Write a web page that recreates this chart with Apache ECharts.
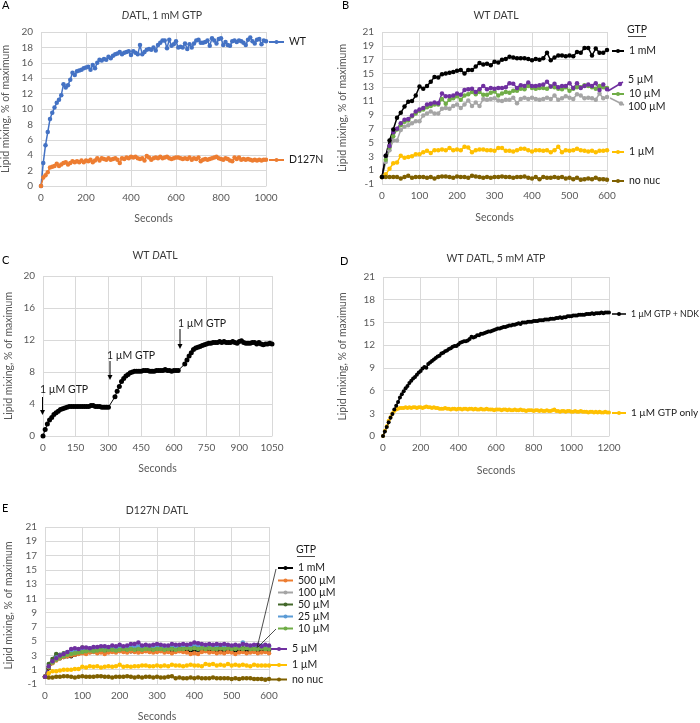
<!DOCTYPE html>
<html><head><meta charset="utf-8">
<script src="https://cdn.jsdelivr.net/npm/echarts@6/dist/echarts.min.js"></script>
<style>html,body{margin:0;padding:0;background:#fff}#c{width:700px;height:723px}</style>
</head><body><div id="c"></div><script>
// ---------- Panel A (10 s steps, 0..1000 s) ----------
const A_step = 10;
const A_WT = [0,3.0,5.3,7.0,8.7,9.5,10.2,10.8,11.2,11.8,
13.2,12.8,13.1,13.8,14.7,14.4,14.9,15.0,15.1,15.3,
15.4,15.5,15.1,15.7,15.3,16.0,16.4,16.3,16.5,16.4,
16.8,16.6,16.9,17.1,17.2,17.4,17.1,17.3,17.4,17.5,
17.0,17.5,17.3,17.1,18.3,17.1,17.4,17.7,17.8,17.7,
18.0,17.6,18.3,18.6,18.9,18.9,17.9,19.0,18.2,18.4,
18.8,18.0,18.1,18.0,18.5,17.8,18.4,18.0,18.5,18.9,
19.0,18.6,18.6,18.7,18.9,18.2,19.2,18.9,18.5,19.1,
19.2,18.3,18.7,18.3,18.2,18.8,18.9,18.7,18.9,18.8,
18.6,18.3,19.0,19.3,18.8,18.5,19.0,19.1,18.4,18.9,18.8];
const A_D127N = [0,1.1,1.4,1.8,2.4,2.5,2.6,2.9,2.6,2.8,
3.0,3.1,2.8,3.0,3.2,3.1,3.2,3.1,3.3,3.1,
3.3,3.2,3.4,3.1,3.3,3.6,3.3,3.6,3.5,3.4,
3.6,3.4,3.5,3.6,3.4,3.0,3.6,3.5,3.7,3.6,
3.8,3.7,3.8,3.6,3.5,3.6,3.3,3.9,3.7,3.4,
3.6,3.7,3.6,3.8,3.6,3.7,3.8,3.6,3.5,3.6,
3.7,3.7,3.6,3.5,3.6,3.5,3.7,3.4,3.6,3.5,
3.7,3.2,3.4,3.5,3.4,3.5,3.6,3.7,3.8,3.6,
3.5,3.4,3.6,3.5,3.3,3.2,3.7,3.5,3.7,3.4,
3.5,3.4,3.5,3.4,3.3,3.4,3.3,3.4,3.3,3.4,3.4];

// ---------- Panel B (10 s steps, 0..600 s) ----------
const B_step = 10;
const B_1mM = [0,3.1,5.3,6.9,8.6,9.3,10.2,10.9,11.0,11.8,
13.1,12.8,13.2,13.8,14.5,14.4,14.9,15.0,15.1,15.2,
15.4,15.5,15.0,15.5,15.5,16.0,16.5,16.3,16.4,16.2,
16.7,16.6,17.0,17.1,17.4,17.3,17.2,17.2,17.2,17.1,
16.9,17.1,17.0,17.2,18.0,16.9,17.3,17.6,17.6,17.5,
17.6,17.5,18.1,18.0,18.7,18.7,17.6,18.6,18.0,18.0,18.4];
const B_5uM = [0,3.1,4.5,6.5,7.0,7.8,8.3,8.4,8.9,9.5,
9.8,10.0,10.5,10.6,10.8,10.7,12.1,11.7,11.7,11.8,
12.1,11.9,12.6,12.7,12.8,12.3,12.7,13.2,12.7,12.9,
12.8,12.9,12.9,13.0,13.6,13.5,12.9,13.3,13.2,13.7,
13.2,13.2,13.3,13.4,13.8,13.1,13.5,13.0,13.2,13.2,
13.6,12.9,13.6,12.9,13.2,13.4,13.2,13.6,12.6,13.4,12.7];
const B_10uM = [0,2.5,4.3,5.9,6.9,7.5,8.0,8.2,8.8,9.2,
9.6,9.8,10.1,10.3,10.5,10.5,11.3,10.6,11.2,11.4,
11.7,11.2,11.8,12.0,12.3,12.0,12.3,11.9,11.9,12.2,
12.4,11.8,12.1,12.3,12.2,12.5,12.5,12.8,12.7,13.2,
12.9,12.8,12.9,12.9,12.8,13.1,13.0,12.8,12.7,13.0,
12.5,12.8,13.0,13.0,13.3,13.2,13.0,12.8,13.2,13.0,12.9];
const B_100uM = [0,2.2,3.9,5.3,5.3,6.8,7.3,7.5,7.8,8.1,
8.1,8.9,9.2,9.5,9.2,9.2,9.9,10.0,9.9,10.3,
10.5,10.0,10.5,11.1,10.3,10.8,10.3,11.3,11.2,11.3,
11.4,11.1,11.0,11.2,11.2,11.5,10.7,11.3,11.5,11.3,
11.5,11.3,11.2,11.3,11.5,11.3,11.8,11.2,11.4,11.7,
11.5,11.3,12.0,11.8,11.4,11.5,11.4,11.2,12.1,11.4,11.6];
const B_1uM = [0,0.4,1.2,2.0,2.1,3.1,2.8,2.9,3.0,3.3,
3.3,3.6,3.8,3.5,3.9,3.9,4.0,3.9,4.2,3.9,
4.0,3.9,4.4,4.3,3.6,3.9,4.0,4.0,3.9,3.9,
3.8,4.2,4.2,3.8,3.8,3.7,3.9,4.1,4.1,3.9,
3.7,3.9,3.9,3.8,3.9,3.6,3.9,4.4,3.6,3.9,
3.8,3.9,4.1,3.9,3.8,3.7,3.8,3.6,3.8,3.8,3.9];
const B_nonuc = [0,0,0,0,0,-0.2,0,0.2,-0.1,0,
0,0,-0.1,0,-0.2,0,0.1,0.1,0,-0.1,
0.1,0,0,-0.1,0.2,0.1,0,-0.1,0,-0.1,
0,0,0.1,0,0,-0.1,0,0,0.1,-0.1,
-0.2,0,-0.3,0,-0.1,-0.1,0,-0.1,0,-0.2,
-0.1,-0.3,-0.1,-0.4,-0.3,-0.2,-0.3,-0.1,-0.3,-0.3,-0.4];

// ---------- Panel C (three GTP additions; sampling times) ----------
const C_times = [0,10,20,30,40,50,60,70,80,90,100,110,120,130,140,150,160,170,180,190,200,210,220,230,240,250,260,270,280,290,300,
330,340,350,360,370,380,390,400,410,420,430,440,450,460,470,480,490,500,510,520,530,540,550,560,570,580,590,600,610,620,
650,660,670,680,690,700,710,720,730,740,750,760,770,780,790,800,810,820,830,840,850,860,870,880,890,900,910,920,930,940,950,960,970,980,990,1000,1010,1020,1030,1040,1050];
const C_vals = [0,0.8,1.5,2.0,2.3,2.7,2.9,3.1,3.3,3.4,3.5,3.6,3.7,3.7,3.7,3.7,3.7,3.7,3.7,3.7,3.7,3.7,3.8,3.8,3.7,3.7,3.7,3.6,3.6,3.6,3.6,
4.9,5.6,6.2,6.8,7.2,7.5,7.7,7.9,8.0,8.1,8.1,8.1,8.1,8.2,8.2,8.2,8.1,8.1,8.1,8.2,8.2,8.2,8.2,8.3,8.2,8.2,8.1,8.2,8.2,8.2,
9.0,9.5,10.0,10.4,10.8,11.0,11.1,11.2,11.3,11.4,11.5,11.6,11.6,11.7,11.7,11.7,11.8,11.7,11.8,11.7,11.7,11.7,11.8,11.7,11.6,11.8,11.9,11.7,11.6,11.6,11.6,11.7,11.7,11.5,11.7,11.5,11.4,11.5,11.5,11.6,11.5];

// ---------- Panel D (10 s steps, 0..1200 s) ----------
const D_step = 10;
const D_NDK = [0,0.6,1.2,1.8,2.4,2.9,3.5,4.0,4.5,5.1,
5.5,5.9,6.3,6.6,7.0,7.3,7.6,7.8,8.1,8.4,
8.6,8.9,9.1,9.0,9.5,9.7,9.9,10.1,10.3,10.5,
10.6,10.9,11.0,11.2,11.3,11.5,11.6,11.8,11.9,11.9,
12.1,12.3,12.4,12.5,12.5,12.6,12.8,13.1,13.0,13.1,
13.3,13.3,13.5,13.5,13.6,13.7,13.8,13.8,13.9,14.0,
14.1,14.2,14.2,14.3,14.4,14.4,14.5,14.6,14.6,14.7,
14.7,14.8,14.9,14.8,15.0,15.0,15.0,15.1,15.1,15.1,
15.2,15.2,15.2,15.3,15.3,15.3,15.4,15.4,15.4,15.5,
15.5,15.5,15.6,15.6,15.7,15.6,15.7,15.7,15.8,15.8,
15.8,15.9,15.9,15.9,16.0,16.0,16.0,16.0,16.1,16.1,
16.1,16.2,16.1,16.2,16.2,16.2,16.3,16.2,16.3,16.3,16.3];
const D_only = [0,0.7,1.3,2.0,2.5,3.0,3.3,3.5,3.6,3.7,
3.7,3.7,3.8,3.7,3.8,3.7,3.8,3.8,3.7,3.8,
3.8,3.7,3.8,3.9,3.8,3.8,3.7,3.8,3.7,3.7,
3.6,3.6,3.6,3.7,3.6,3.6,3.5,3.6,3.6,3.5,
3.6,3.6,3.5,3.6,3.6,3.5,3.6,3.6,3.5,3.6,
3.5,3.5,3.6,3.5,3.5,3.6,3.5,3.5,3.5,3.4,
3.5,3.5,3.5,3.4,3.5,3.5,3.4,3.5,3.4,3.4,
3.5,3.4,3.4,3.5,3.4,3.4,3.3,3.4,3.4,3.4,
3.3,3.4,3.4,3.3,3.4,3.3,3.3,3.4,3.3,3.3,
3.4,3.5,3.3,3.3,3.2,3.3,3.3,3.2,3.3,3.3,
3.2,3.2,3.3,3.2,3.2,3.3,3.2,3.2,3.2,3.1,
3.2,3.2,3.1,3.2,3.1,3.2,3.1,3.1,3.2,3.1,3.1];

// ---------- Panel E (10 s steps, 0..600 s) ----------
const E_step = 10;
const E_1mM = [0,1.2,2.0,2.4,2.6,2.8,2.9,2.9,3.1,3.3,
3.5,3.6,3.5,3.6,3.6,3.7,3.6,3.7,3.7,3.6,
3.7,3.7,3.7,3.6,3.7,3.7,3.8,3.7,3.7,3.7,
3.7,3.8,3.7,3.7,3.7,3.8,3.7,3.7,3.8,3.7,
3.7,3.8,3.7,3.7,3.6,3.7,3.7,3.7,3.6,3.7,
3.7,3.6,3.7,3.7,3.6,3.6,3.7,3.7,3.7,3.7,3.8];
const E_500uM = [0,1.3,1.9,2.3,2.6,2.8,2.9,3.0,3.1,3.2,
3.3,3.2,3.4,3.5,3.3,3.4,3.2,3.4,3.5,3.4,
3.6,3.5,3.4,3.6,3.5,3.4,3.5,3.6,3.5,3.4,
3.5,3.6,3.4,3.5,3.3,3.5,3.6,3.5,3.4,3.2,
3.3,3.2,3.5,3.6,3.4,3.5,3.3,3.4,3.3,3.5,
3.4,3.2,3.4,3.5,3.3,3.4,3.5,3.3,3.4,3.5,3.3];
const E_100uM = [0,1.3,2.0,2.4,2.7,2.9,3.0,3.2,3.3,3.4,
3.5,3.4,3.5,3.6,3.6,3.7,3.6,3.7,3.7,3.6,
3.7,3.7,3.8,3.7,3.7,3.8,3.7,3.8,3.7,3.8,
3.7,3.8,3.7,3.8,3.7,3.8,3.8,3.7,3.8,3.7,
3.8,3.7,3.8,3.8,3.7,3.8,3.7,3.8,3.7,3.8,
3.7,3.8,3.7,3.8,3.7,3.7,3.8,3.7,3.7,3.8,3.7];
const E_50uM = [0,1.8,2.5,3.2,3.1,3.3,3.4,3.5,3.6,3.8,
4.1,3.9,3.8,4.0,3.9,4.0,4.0,3.9,4.0,4.0,
4.1,4.0,3.9,4.0,4.1,4.0,4.0,4.1,4.0,4.0,
4.1,4.0,4.1,4.0,4.1,4.0,4.1,4.0,4.1,4.1,
4.2,4.1,4.2,4.1,4.2,4.1,4.1,4.2,4.1,4.2,
4.1,4.0,4.1,4.0,4.1,4.0,4.1,4.0,4.1,4.0,4.0];
const E_25uM = [0,1.4,2.1,2.7,3.0,3.2,3.4,3.6,3.7,3.8,
3.9,4.0,4.0,4.1,4.0,4.1,4.2,4.1,4.2,4.1,
4.3,4.2,4.2,4.3,4.2,4.3,4.2,4.3,4.2,4.3,
4.3,4.2,4.3,4.2,4.4,4.3,4.3,4.4,4.3,4.4,
4.5,4.4,4.3,4.4,4.4,4.3,4.4,4.4,4.3,4.4,
4.3,4.4,4.3,4.8,4.4,4.3,4.4,4.3,4.4,4.3,4.3];
const E_10uM = [0,1.4,2.0,2.4,2.7,2.9,3.1,3.2,3.3,3.4,
3.5,3.6,3.7,3.6,3.7,3.8,3.7,3.8,3.8,3.7,
3.8,3.9,3.8,3.9,3.8,3.9,3.8,3.9,3.9,3.8,
3.9,3.9,3.8,3.9,3.9,3.8,3.9,3.9,4.0,3.9,
4.0,3.9,4.0,3.9,4.0,3.9,3.9,4.0,3.9,4.0,
3.9,3.9,4.0,3.9,4.0,3.9,3.9,3.9,4.0,3.9,3.9];
const E_5uM = [0,1.5,2.2,2.6,3.0,3.2,3.5,3.9,4.0,3.9,
4.1,4.1,4.0,4.2,4.2,4.3,4.3,4.2,4.4,4.3,
4.5,4.3,4.4,4.6,4.6,4.8,4.4,4.5,4.4,4.5,
4.6,4.5,4.4,4.4,4.6,4.5,4.5,4.6,4.5,4.6,
4.8,4.7,4.6,4.5,4.6,4.5,4.6,4.5,4.6,4.5,
4.4,4.5,4.4,4.6,4.5,4.4,4.5,4.5,4.3,4.5,4.4];
const E_1uM = [0,0.5,0.8,0.8,0.9,1.0,1.0,1.0,1.1,1.1,
1.4,1.3,1.5,1.4,1.5,1.3,1.4,1.5,1.4,1.5,
1.7,1.4,1.5,1.4,1.5,1.5,1.6,1.6,1.5,1.5,
1.6,1.5,1.6,1.5,1.7,1.6,1.6,1.5,1.6,1.7,
1.6,1.6,1.5,1.8,1.7,1.8,1.6,1.7,1.6,1.8,
1.6,1.7,1.6,1.7,1.6,1.5,1.7,1.6,1.6,1.6,1.6];
const E_nonuc = [0,-0.1,-0.1,0,0,0.1,0.1,0,-0.1,0,
0.1,0,0,0,0.1,0.1,0,0,-0.1,0,
0,0,0.1,0,-0.1,0,-0.1,0,0,-0.1,
0,-0.1,-0.1,0,0.1,-0.2,-0.1,-0.2,-0.2,-0.1,
-0.2,-0.1,-0.2,-0.2,-0.2,-0.1,-0.2,-0.2,-0.2,-0.2,
-0.3,-0.2,-0.3,-0.2,-0.2,-0.2,-0.3,-0.3,-0.3,-0.4,-0.3];

// ---------- ticks ----------
const A_x = {max:1000, interval:200}, A_y = {min:0, max:20, interval:2};
const B_x = {max:600, interval:100},  B_y = {min:-1, max:21, interval:2};
const C_x = {max:1050, interval:150}, C_y = {min:0, max:20, interval:4};
const D_x = {max:1200, interval:200}, D_y = {min:0, max:21, interval:3};
const E_x = {max:600, interval:100},  E_y = {min:-1, max:21, interval:2};

// ---------- colours ----------
const COL = {blue:'#4472C4', orange:'#ED7D31', gray:'#A5A5A5', yellow:'#FFC000', black:'#000000',
  purple:'#7030A0', green:'#70AD47', brown:'#7F6000', lblue:'#5B9BD5', dgreen:'#43682B'};

const F = 'Lato, "Noto Sans", "Liberation Sans", sans-serif';
const GRAY = '#595959';

function stepped(vals, step){ return vals.map((v,i)=>[i*step, v]); }
function zip(ts, vs){ return vs.map((v,i)=>[ts[i], v]); }

const grids = [
  {left:41, top:32, width:225, height:154},
  {left:382, top:32, width:225, height:152},
  {left:43, top:276, width:229, height:160},
  {left:383, top:277, width:226, height:159},
  {left:45, top:527, width:224, height:157}
];
grids.forEach(g=>{ g.containLabel=false; g.outerBoundsMode='none'; });

const plain = v => String(v);
function xAx(gi, cfg, gap){
  return {type:'value', gridIndex:gi, min:0, max:cfg.max, interval:cfg.interval,
    name:'Seconds', nameLocation:'middle', nameGap:gap,
    nameTextStyle:{color:GRAY, fontSize:10.5, fontFamily:F},
    axisLine:{show:true, lineStyle:{color:'#d9d9d9'}}, axisTick:{show:false},
    axisLabel:{color:GRAY, fontSize:10, fontFamily:F, margin:7, formatter:plain},
    splitLine:{show:true, lineStyle:{color:'#d9d9d9', width:1}}};
}
function yAx(gi, cfg, gap){
  return {type:'value', gridIndex:gi, min:cfg.min, max:cfg.max, interval:cfg.interval,
    name:'Lipid mixing, % of maximum', nameLocation:'middle', nameGap:gap, nameRotate:90,
    nameTextStyle:{color:GRAY, fontSize:10.5, fontFamily:F},
    axisLine:{show:false}, axisTick:{show:false},
    axisLabel:{color:GRAY, fontSize:10, fontFamily:F, margin:8, formatter:plain},
    splitLine:{show:true, lineStyle:{color:'#d9d9d9', width:1}}};
}
function ser(name, data, color, gi, sz, lw){
  return {type:'line', name, data, xAxisIndex:gi, yAxisIndex:gi, symbol:'circle', symbolSize:sz,
    showSymbol:true, color, lineStyle:{color, width:lw}, itemStyle:{color},
    animation:false, emphasis:{disabled:true}, silent:true};
}
function leg(name, left, cy, w, icon, fs){
  const d = icon ? {name, icon} : {name};
  return {data:[d], left, top:cy-7, orient:'horizontal', itemWidth:w, itemHeight:5, padding:0, itemGap:0,
    selectedMode:false, textStyle:{color:'#1a1a1a', fontSize:fs||10.5, fontFamily:F, lineHeight:14}};
}

const series = [
  ser('WT', stepped(A_WT, A_step), COL.blue, 0, 4.5, 1.5),
  ser('D127N', stepped(A_D127N, A_step), COL.orange, 0, 4.5, 1.5),

  ser('100 µM', stepped(B_100uM, B_step), COL.gray, 1, 4.5, 1.5),
  ser('10 µM', stepped(B_10uM, B_step), COL.green, 1, 4.5, 1.5),
  ser('5 µM', stepped(B_5uM, B_step), COL.purple, 1, 4.5, 1.5),
  ser('1 µM', stepped(B_1uM, B_step), COL.yellow, 1, 4.5, 1.5),
  ser('no nuc', stepped(B_nonuc, B_step), COL.brown, 1, 4.5, 1.5),
  ser('1 mM', stepped(B_1mM, B_step), COL.black, 1, 4.5, 1.5),

  ser('1 µM GTP', zip(C_times, C_vals), COL.black, 2, 5, 1),

  ser('1 µM GTP only', stepped(D_only, D_step), COL.yellow, 3, 4, 1.5),
  ser('1 µM GTP + NDK', stepped(D_NDK, D_step), COL.black, 3, 4, 1.5),

  ser('100 µM', stepped(E_100uM, E_step), COL.gray, 4, 4.5, 1.5),
  ser('1 mM', stepped(E_1mM, E_step), COL.black, 4, 4.5, 1.5),
  ser('500 µM', stepped(E_500uM, E_step), COL.orange, 4, 4.5, 1.5),
  ser('50 µM', stepped(E_50uM, E_step), COL.dgreen, 4, 4.5, 1.5),
  ser('25 µM', stepped(E_25uM, E_step), COL.lblue, 4, 4.5, 1.5),
  ser('10 µM', stepped(E_10uM, E_step), COL.green, 4, 4.5, 1.5),
  ser('1 µM', stepped(E_1uM, E_step), COL.yellow, 4, 4.5, 1.5),
  ser('no nuc', stepped(E_nonuc, E_step), COL.brown, 4, 4.5, 1.5),
  ser('5 µM', stepped(E_5uM, E_step), COL.purple, 4, 4.5, 1.5)
];

const legends = [
  leg('WT', 268, 42, 15), leg('D127N', 268, 160, 15),
  leg('1 mM', 611, 51, 12), leg('5 µM', 611, 80, 12, 'none'), leg('10 µM', 611, 94, 12),
  leg('100 µM', 611, 107, 12, 'none'), leg('1 µM', 611, 152, 12), leg('no nuc', 611, 181, 12),
  leg('1 µM GTP only', 611, 413, 14, null, 10),
  leg('1 mM', 277, 568, 15), leg('500 µM', 277, 580.5, 15), leg('100 µM', 277, 592.5, 15),
  leg('50 µM', 277, 604.5, 15), leg('25 µM', 277, 616.5, 15), leg('10 µM', 277, 628.5, 15),
  leg('5 µM', 270, 649, 16), leg('1 µM', 270, 665, 16), leg('no nuc', 270, 679.5, 16)
];

function txt(x, y, s, size, color, align, rich){
  const st = {text:s, x:0, y:0, fontSize:size, fontFamily:F, fill:color, align:align||'left', verticalAlign:'middle'};
  if (rich) st.rich = rich;
  return {type:'text', x, y, style:st, z:100, silent:true};
}
const itl = (size,color)=>({i:{fontStyle:'italic', fontSize:size, fontFamily:F, fill:color, color:color}, n:{fontSize:size, fontFamily:F, fill:color, color:color}});
function title(x, y, pre, post){
  return txt(x, y, (pre?'{n|'+pre+'}':'')+'{i|D}{n|'+post+'}', 10.5, '#3a3a3a', 'center', itl(10.5,'#3a3a3a'));
}
function arrow(x, y1, y2){
  return [
    {type:'line', shape:{x1:x, y1:y1, x2:x, y2:y2-4}, style:{stroke:'#000', lineWidth:1}, z:100, silent:true},
    {type:'polygon', shape:{points:[[x-2.5,y2-5],[x+2.5,y2-5],[x,y2]]}, style:{fill:'#000'}, z:100, silent:true}
  ];
}
function line(x1,y1,x2,y2,color,w){ return {type:'line', shape:{x1,y1,x2,y2}, style:{stroke:color, lineWidth:w||1}, z:100, silent:true}; }
function dot(x,y,color,r){ return {type:'circle', shape:{cx:x, cy:y, r:r||2.2}, style:{fill:color}, z:101, silent:true}; }

// key for the NDK series, squeezed to fit before the right edge
const ndkLabel = '1 µM GTP + NDK';
const mctx = document.createElement('canvas').getContext('2d');
mctx.font = '10px ' + F;
const ndkW = mctx.measureText(ndkLabel).width || 68;
const ndkScale = Math.min(1, 68 / ndkW);
const ndkKey = [
  line(612, 314, 626, 314, '#000', 1.5), dot(619, 314, '#000', 2),
  {type:'text', x:631, y:314, scaleX:ndkScale, scaleY:1, originX:0, originY:0,
   style:{text:ndkLabel, fontSize:10, fontFamily:F, fill:'#1a1a1a', align:'left', verticalAlign:'middle'}, z:100, silent:true}
];

const graphic = [
  txt(2, 5, 'A', 11, '#000'), txt(342, 5, 'B', 11, '#000'), txt(2, 260, 'C', 11, '#000'),
  txt(340, 261, 'D', 11, '#000'), txt(2, 508, 'E', 11, '#000'),
  title(162, 16, '', 'ATL, 1 mM GTP'),
  title(496, 16, 'WT ', 'ATL'),
  title(155, 256, 'WT ', 'ATL'),
  title(496, 259, 'WT ', 'ATL, 5 mM ATP'),
  title(157, 511, 'D127N ', 'ATL'),
  txt(637, 30, 'GTP', 10.5, '#1a1a1a', 'center'), line(628, 36.5, 646, 36.5, '#1a1a1a', 0.8),
  txt(306, 550, 'GTP', 10.5, '#1a1a1a', 'center'), line(297, 556.5, 315, 556.5, '#1a1a1a', 0.8),
  // leader lines panel B
  line(608, 91, 623, 82, COL.purple, 1.5), dot(620, 84, COL.purple),
  line(610, 98, 624, 105, COL.gray, 1.5), dot(621, 103.5, COL.gray),
  // leader lines panel E
  line(276, 569, 257, 648, '#222', 0.8), line(276, 629, 258, 647, '#222', 0.8),
  // annotations panel C
  txt(40, 390, '1 µM GTP', 10.5, '#1a1a1a'), ...arrow(42.5, 397, 415),
  txt(107, 355.5, '1 µM GTP', 10.5, '#1a1a1a'), ...arrow(110, 361, 380),
  txt(178, 323.5, '1 µM GTP', 10.5, '#1a1a1a'), ...arrow(180, 329, 349),
  ...ndkKey
];

const option = {
  animation:false, backgroundColor:'#fff',
  textStyle:{fontFamily:F},
  grid: grids,
  xAxis: [xAx(0, A_x, 27), xAx(1, B_x, 28), xAx(2, C_x, 27), xAx(3, D_x, 29), xAx(4, E_x, 27)],
  yAxis: [yAx(0, A_y, 30), yAx(1, B_y, 34), yAx(2, C_y, 29), yAx(3, D_y, 35), yAx(4, E_y, 31)],
  legend: legends,
  series,
  graphic
};
const chart = echarts.init(document.getElementById('c'), null, {renderer:'canvas'});
chart.setOption(option);
</script></body></html>
